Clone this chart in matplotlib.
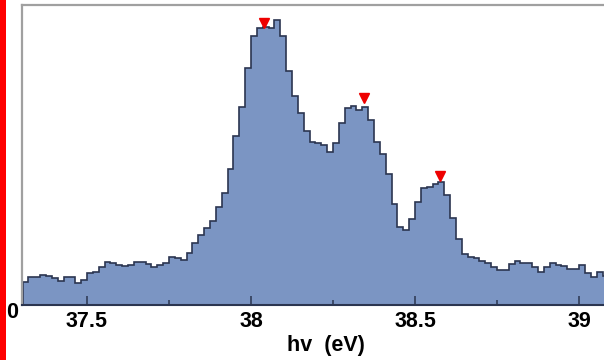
import matplotlib
matplotlib.use("Agg")
import matplotlib.pyplot as plt
import matplotlib.transforms as mtransforms
from matplotlib.patches import Rectangle
import numpy as np

plt.rcParams['font.family'] = ['Liberation Sans', 'DejaVu Sans']

# histogram binning (bin edges line up with 38.0 eV)
bin_width = 0.25 / 14
first_bin = -39
# counts per bin (arbitrary units)
counts = [23, 28, 28, 30, 29, 27, 24, 28, 28, 22, 25, 32, 33, 38, 43, 42, 40,
          39, 40, 43, 43, 41, 38, 40, 42, 48, 47, 45, 52, 62, 70, 77, 84, 98,
          112, 136, 169, 198, 237, 269, 277, 278, 277, 285, 269, 234, 209, 192,
          174, 163, 162, 160, 153, 162, 182, 197, 199, 195, 198, 185, 163, 151,
          131, 101, 78, 75, 86,
          103, 117, 118, 121, 123, 110, 87, 66, 51, 48, 47, 44, 42, 38, 35, 35,
          41, 44, 42, 42, 38, 33, 38, 42, 40, 39, 36, 36, 40, 32, 28, 33, 29]

# peak markers
peak_hv = [38.041, 38.345, 38.575]
peak_y = [282, 207, 129]

xticks_major = [37.5, 38, 38.5, 39]
xtick_labels = ['37.5', '38', '38.5', '39']
xticks_minor = [37.75, 38.25, 38.75]

edges = 38 + bin_width * np.arange(first_bin, first_bin + len(counts) + 1)

fig = plt.figure(figsize=(6.04, 3.6), dpi=100)
ax = fig.add_axes([22 / 604, 55 / 360, 582 / 604, 300 / 360])

ax.stairs(counts, edges, fill=True, facecolor='#7b95c3', edgecolor='none')
ax.stairs(counts, edges, fill=False, color='#2b3550', linewidth=1.2)
ax.plot(peak_hv, peak_y, linestyle='none', marker='v', color='#ee0000',
        markersize=6.5, clip_on=False)

ax.set_xlim(37.302, 39.076)
ax.set_ylim(0, 300)

ax.set_xticks(xticks_major)
ax.set_xticklabels(xtick_labels, fontsize=15.5, fontweight='bold')
ax.set_xticks(xticks_minor, minor=True)
ax.tick_params(axis='x', which='major', direction='in', length=6.5, width=1.1,
               color='#2b3550', pad=4)
ax.tick_params(axis='x', which='minor', direction='in', length=3.5, width=1.1,
               color='#2b3550')
ax.set_yticks([0])
ax.set_yticklabels(['0'], fontsize=15.5, fontweight='bold')
ax.tick_params(axis='y', length=0, pad=3)
off = mtransforms.ScaledTranslation(0, -4.5 / 100, fig.dpi_scale_trans)
for lab in ax.get_yticklabels():
    lab.set_transform(lab.get_transform() + off)

ax.set_xlabel('hv  (eV)', fontsize=15.5, fontweight='bold')
ax.xaxis.set_label_coords(0.522, -0.1)

ax.spines['right'].set_visible(False)
ax.spines['top'].set_color('#a0a0a0')
ax.spines['left'].set_color('#a0a0a0')
ax.spines['top'].set_linewidth(1.6)
ax.spines['left'].set_linewidth(1.6)
ax.spines['bottom'].set_color('#2b3550')
ax.spines['bottom'].set_linewidth(1.5)

# red strip at the left edge
fig.patches.append(Rectangle((0, 0), 6 / 604, 1, transform=fig.transFigure,
                             facecolor='#ff0000', edgecolor='none'))

fig.savefig('out.png', dpi=100)
